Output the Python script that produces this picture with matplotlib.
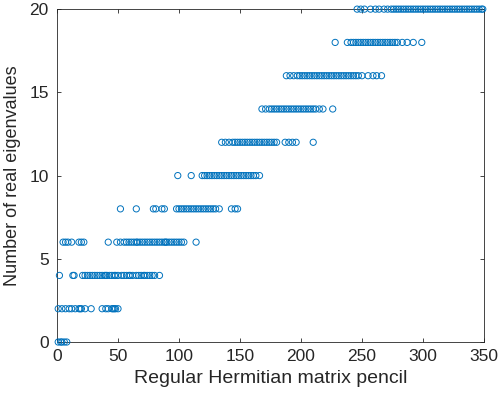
import matplotlib.pyplot as plt

plt.rcParams['font.family'] = ['Liberation Sans', 'DejaVu Sans']

# pencil index (x) grouped by number of real eigenvalues (y)
x_0 = [1, 3, 4, 6, 8]
x_2 = [1, 4, 7, 10, 12, 15, 18, 19, 20, 23, 28, 37, 40, 42, 45, 46, 47, 48, 50]
x_4 = [2, 13, 14, 21, 23, 25, 27, 29, 31, 33, 35, 37, 39, 40, 41, 43, 45, 47,
       48, 50, 53, 55, 57, 59, 60, 62, 65, 67, 69, 71, 72, 74, 76, 78, 80, 84]
x_6 = [5, 7, 9, 12, 18, 20, 22, 42, 49, 52, 55, 57, 59, 61, 63, 65, 66, 68, 70,
       72, 74, 76, 78, 80, 82, 84, 86, 88, 89, 90, 92, 94, 96, 98, 100, 102,
       104, 114]
x_8 = [52, 65, 79, 81, 86, 88, 98, 100, 102, 104, 106, 108, 110, 112, 114, 116,
       118, 120, 122, 124, 126, 128, 130, 133, 143, 146, 148]
x_10 = [99, 110, 119, 121, 123, 125, 127, 129, 131, 133, 135, 137, 139, 141,
        143, 145, 147, 149, 151, 153, 155, 157, 159, 161, 163, 166]
x_12 = [135, 138, 141, 144, 146, 148, 150, 152, 154, 156, 158, 160, 162, 164,
        166, 168, 170, 172, 174, 176, 178, 180, 187, 190, 193, 196, 210]
x_14 = [168, 171, 174, 176, 178, 180, 182, 184, 186, 188, 190, 192, 194, 196,
        198, 200, 202, 204, 206, 208, 210, 212, 215, 218, 226]
x_16 = [188, 191, 194, 197, 199, 201, 203, 205, 207, 209, 211, 213, 215, 217,
        219, 221, 223, 225, 227, 229, 231, 233, 235, 237, 239, 241, 243, 245,
        247, 250, 255, 259, 262, 266]
x_18 = [228, 238, 241, 243, 245, 247, 249, 251, 253, 255, 257, 259, 261, 263,
        265, 267, 269, 271, 273, 275, 277, 279, 283, 287, 292, 299]
x_20 = [246, 249, 252, 257, 261, 264, 268, 271, 274, 276, 278, 280, 282, 284,
        286, 288, 290, 292, 294, 296, 298, 300, 302, 304, 306, 308, 310, 312,
        314, 316, 318, 320, 322, 324, 326, 328, 330, 332, 334, 336, 338, 340,
        342, 344, 346, 348, 349]

levels = [0, 2, 4, 6, 8, 10, 12, 14, 16, 18, 20]
groups = [x_0, x_2, x_4, x_6, x_8, x_10, x_12, x_14, x_16, x_18, x_20]

xs, ys = [], []
for lev, g in zip(levels, groups):
    xs += g
    ys += [lev] * len(g)

fig = plt.figure(figsize=(5, 3.97), dpi=100)
ax = fig.add_axes([0.114, 0.1385, 0.854, 0.8385])
ax.scatter(xs, ys, s=20, facecolors='none', edgecolors='#0072BD',
           linewidths=0.7, clip_on=False, zorder=3)

ax.set_xlim(0, 350)
ax.set_ylim(0, 20)
ax.set_xticks(range(0, 351, 50))
ax.set_yticks([0, 5, 10, 15, 20])
ax.tick_params(direction='in', length=3, width=0.6, labelsize=12.5,
               top=True, right=True, colors='#262626')
ax.tick_params(axis='x', pad=5)
ax.tick_params(axis='y', pad=6)
for sp in ax.spines.values():
    sp.set_linewidth(0.6)
    sp.set_color('#262626')
ax.set_xlabel('Regular Hermitian matrix pencil', fontsize=14, color='#262626', labelpad=4)
ax.set_ylabel('Number of real eigenvalues', fontsize=13, color='#262626', labelpad=6)

plt.savefig('out.png', dpi=100)
plt.close()
